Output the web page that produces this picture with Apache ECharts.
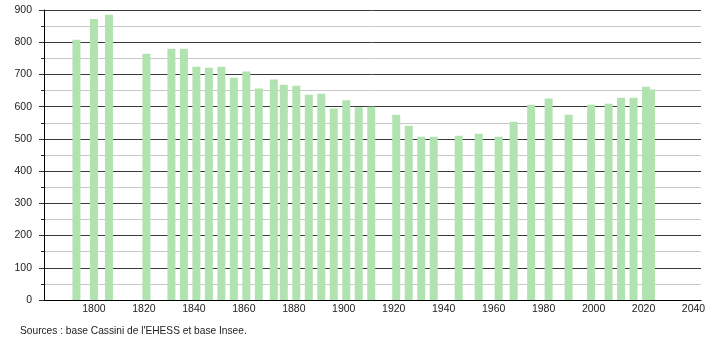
<!DOCTYPE html>
<html>
<head>
<meta charset="utf-8">
<script src="https://cdn.jsdelivr.net/npm/echarts@6/dist/echarts.min.js"></script>
<style>
html,body{margin:0;padding:0;background:#fff;}
#chart{width:710px;height:340px;}
</style>
</head>
<body>
<div id="chart"></div>
<script>
var years = [1793,1800,1806,1821,1831,1836,1841,1846,1851,1856,1861,1866,1872,1876,1881,1886,1891,1896,1901,1906,1911,1921,1926,1931,1936,1946,1954,1962,1968,1975,1982,1990,1999,2006,2011,2016,2021,2023];
var population = [808,872,885,764,780,780,724,721,724,690,709,656,684,668,665,637,640,594,620,598,600,575,541,507,507,510,516,507,553,606,625,575,606,609,628,628,662,653];
var yTicks = [0,100,200,300,400,500,600,700,800,900];
var xTicks = [1800,1820,1840,1860,1880,1900,1920,1940,1960,1980,2000,2020,2040];
var sourceText = "Sources : base Cassini de l'EHESS et base Insee.";

var data = years.map(function(y, i){ return [y, population[i]]; });

var chart = echarts.init(document.getElementById('chart'), null, {renderer:'canvas'});
chart.setOption({
  animation: false,
  backgroundColor: '#ffffff',
  textStyle: {fontFamily: 'Liberation Sans, Arial, sans-serif'},
  grid: {left: 44, right: 9, top: 10, bottom: 40, containLabel: false},
  xAxis: {
    type: 'value', min: 1780, max: 2043, interval: 20,
    axisLine: {show: true, lineStyle: {color: '#000', width: 1}},
    axisTick: {show: false},
    splitLine: {show: false},
    axisLabel: {
      margin: 4, fontSize: 10.5, color: '#222', showMinLabel: false, showMaxLabel: false,
      formatter: function(v){ return xTicks.indexOf(v) >= 0 ? String(v) : ''; }
    }
  },
  yAxis: {
    type: 'value', min: yTicks[0], max: yTicks[yTicks.length-1], interval: 100,
    axisLine: {show: true, lineStyle: {color: '#000', width: 1}},
    axisTick: {show: true, length: 5, lineStyle: {color: '#333'}},
    minorTick: {show: true, splitNumber: 2, length: 3, lineStyle: {color: '#333'}},
    splitLine: {show: true, lineStyle: {color: '#3a3a3a', width: 1}},
    minorSplitLine: {show: true, lineStyle: {color: '#c8c8c8', width: 1}},
    axisLabel: {margin: 12, fontSize: 10.5, color: '#222'}
  },
  series: [{
    type: 'bar',
    data: data,
    barWidth: 8,
    itemStyle: {color: '#b0e3b0'},
    z: 3
  }],
  graphic: [{
    type: 'text', left: 20, top: 326,
    style: {text: sourceText, font: '10.2px Liberation Sans, Arial, sans-serif', fill: '#222'}
  }]
});
</script>
</body>
</html>
